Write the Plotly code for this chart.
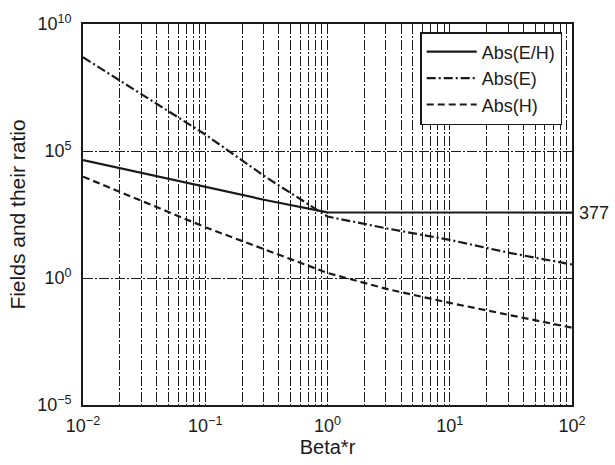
import math
import plotly.graph_objects as go

# Data (log-log)
beta_r = [0.01, 0.0316, 0.1, 0.316, 1.0, 3.16, 10.0, 31.6, 100.0]
abs_EH = [43650, 12800, 3900, 1150, 385, 377, 377, 377, 377]
abs_E = [4.9e8, 1.45e7, 4.47e5, 9120, 263, 87, 31.6, 9.5, 3.4]
abs_H = [9770, 1000, 100, 12.6, 1.58, 0.355, 0.105, 0.034, 0.011]
series_names = ["Abs(E/H)", "Abs(E)", "Abs(H)"]
x_ticks = [0.01, 0.1, 1, 10, 100]
x_ticktext = ["10<sup>−2</sup>", "10<sup>−1</sup>", "10<sup>0</sup>", "10<sup>1</sup>", "10<sup>2</sup>"]
y_ticks = [1e-5, 1e0, 1e5, 1e10]
y_ticktext = ["10<sup>−5</sup>", "10<sup>0</sup>", "10<sup>5</sup>", "10<sup>10</sup>"]
label_value = 377

FONT = "Liberation Sans, Arial, Helvetica, sans-serif"
INK = "#1a1a1a"
GRID_DASH = "10px,2px,2px,2px"

fig = go.Figure()
fig.add_trace(go.Scatter(x=beta_r, y=abs_EH, mode="lines", name=series_names[0],
                         line=dict(color=INK, width=2.2, dash="solid")))
fig.add_trace(go.Scatter(x=beta_r, y=abs_E, mode="lines", name=series_names[1],
                         line=dict(color=INK, width=2.2, dash="9px,3px,2px,3px")))
fig.add_trace(go.Scatter(x=beta_r, y=abs_H, mode="lines", name=series_names[2],
                         line=dict(color=INK, width=2.2, dash="7px,4px")))

# annotation y on a log axis is given in log10 units
fig.add_annotation(x=1.0, xref="paper", y=math.log10(label_value), yref="y",
                   yanchor="middle", xanchor="left", xshift=5,
                   text=str(label_value), showarrow=False,
                   font=dict(family=FONT, size=18, color=INK))

fig.update_layout(
    width=615, height=465,
    margin=dict(l=83, r=43, t=24, b=60),
    paper_bgcolor="white", plot_bgcolor="white",
    font=dict(family=FONT, size=17, color=INK),
    showlegend=True,
    legend=dict(x=0.98, y=0.979, xanchor="right", yanchor="top",
                bgcolor="white", bordercolor=INK, borderwidth=1.5,
                font=dict(family=FONT, size=18, color=INK),
                itemwidth=50, tracegroupgap=0),
)

fig.update_xaxes(
    type="log", range=[-2, 2], automargin=False,
    tickvals=x_ticks, ticktext=x_ticktext,
    ticks="", showline=True, linecolor=INK, linewidth=1.6, mirror=True,
    showgrid=True, gridcolor=INK, gridwidth=1.3, griddash=GRID_DASH,
    minor=dict(dtick="D1", showgrid=True, gridcolor=INK, gridwidth=1.3,
               griddash=GRID_DASH, ticks=""),
    title=dict(text="Beta*r", font=dict(size=20), standoff=5),
    tickfont=dict(size=18), ticklabelstandoff=4,
    zeroline=False,
)
fig.update_yaxes(
    type="log", range=[-5, 10], automargin=False,
    tickvals=y_ticks, ticktext=y_ticktext,
    ticks="", showline=True, linecolor=INK, linewidth=1.6, mirror=True,
    showgrid=True, gridcolor=INK, gridwidth=1.3, griddash=GRID_DASH,
    title=dict(text="Fields and their ratio", font=dict(size=21), standoff=6),
    tickfont=dict(size=18), ticklabelstandoff=6,
    zeroline=False,
)

# remove the default 8px page margin so the figure fills the window exactly
fig.write_html(
    "out.html",
    config={"displayModeBar": False},
    post_script="document.body.style.margin='0px';"
                "document.documentElement.style.overflow='hidden';",
)
